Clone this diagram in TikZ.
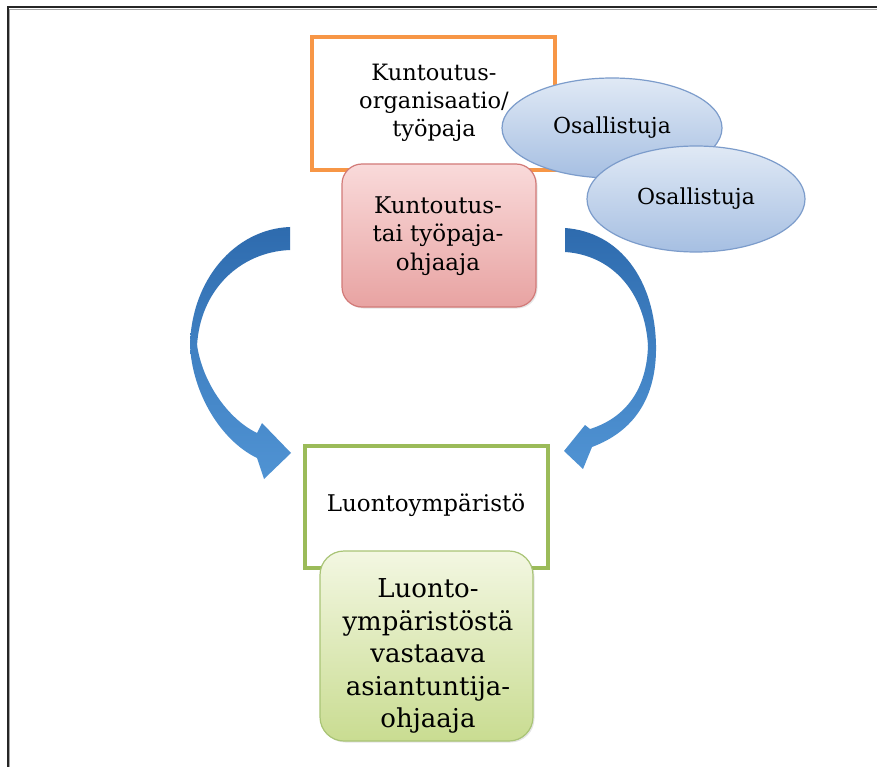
\documentclass[tikz,border=0pt]{standalone}
\usepackage{fontspec}
\setmainfont{DejaVu Serif}
\usetikzlibrary{shapes.geometric,shadows}
\definecolor{orangeb}{HTML}{F79646}
\definecolor{greenb}{HTML}{9BBB59}
\definecolor{redb}{HTML}{D27A78}
\definecolor{redtop}{HTML}{F9DADA}
\definecolor{redbot}{HTML}{E8A3A2}
\definecolor{grtop}{HTML}{F3F7E2}
\definecolor{grbot}{HTML}{C9DC91}
\definecolor{grline}{HTML}{A9C476}
\definecolor{eltop}{HTML}{E0E9F5}
\definecolor{elbot}{HTML}{A6BFE2}
\definecolor{elline}{HTML}{7C9CCB}
\definecolor{arrdark}{HTML}{2E6BAE}
\definecolor{arrmid}{HTML}{3F80C2}
\definecolor{arrlight}{HTML}{5093D3}
\definecolor{frame}{HTML}{262626}
\tikzset{
  framebox/.style={line width=4pt},
  softbox/.style={rounded corners=20pt, line width=1.2pt},
  oval/.style={ellipse, draw=elline, line width=1.2pt, top color=eltop, bottom color=elbot, inner sep=0pt},
  lbl/.style={align=center, inner sep=0pt, text=black},
}
\begin{document}
\begin{tikzpicture}[x=1pt,y=-1pt]
\useasboundingbox (0,0) rectangle (877,767);
\fill[white] (0,0) rectangle (877,767);
% outer frame
\draw[black!35, line width=1pt] (9.5,767) -- (9.5,9.5) -- (877,9.5);
\draw[frame, line width=2pt] (7.5,767) -- (7.5,7.5) -- (877,7.5);

% orange rectangle
\draw[orangeb, framebox] (312,37) rectangle (555,170);
\node[lbl, font=\fontsize{22.5}{28}\selectfont] (org) at (434,103) {Kuntoutus-\\organisaatio/\\työpaja};

% red rounded box
\path[softbox, draw=redb, top color=redtop, bottom color=redbot, drop shadow={opacity=0.2, shadow xshift=1.5pt, shadow yshift=-1.5pt}] (342,164) rectangle (536,307);
\node[lbl, font=\fontsize{23}{28.5}\selectfont] (ohj) at (438,236) {Kuntoutus-\\tai työpaja-\\ohjaaja};

% ellipses
\node[oval, minimum width=220pt, minimum height=100pt] (os1) at (612,128) {};
\node[lbl, font=\fontsize{22}{26}\selectfont] at (os1.center) {Osallistuja};
\node[oval, minimum width=218pt, minimum height=106pt] (os2) at (696,199) {};
\node[lbl, font=\fontsize{22}{26}\selectfont] at (os2.center) {Osallistuja};

% green rectangle
\draw[greenb, framebox] (305,446) rectangle (548,568);
\node[lbl, font=\fontsize{23}{28}\selectfont] (luo) at (426,505) {Luontoympäristö};

% green rounded box
\path[softbox, rounded corners=24pt, draw=grline, top color=grtop, bottom color=grbot, drop shadow={opacity=0.2, shadow xshift=1.5pt, shadow yshift=-1.5pt}] (320,551) rectangle (533,741);
\node[lbl, font=\fontsize{26}{32.5}\selectfont] (asi) at (428,656) {Luonto-\\ympäristöstä\\vastaava\\asiantuntija-\\ohjaaja};

% left curved arrow
\path[top color=arrdark, bottom color=arrmid]
  (290,227) .. controls (235,229) and (191,280) .. (190,346)
  -- (197,346) .. controls (200,290) and (240,252) .. (290,250) -- cycle;
\path[top color=arrmid, bottom color=arrlight]
  (190,345) .. controls (192,392) and (220,440) .. (257,458)
  -- (264,479) -- (291,453) -- (262,423) -- (257,433)
  .. controls (230,420) and (203,385) .. (197,345) -- cycle;

% right curved arrow
\path[top color=arrdark, bottom color=arrmid]
  (565,228) .. controls (620,232) and (655,280) .. (656,346)
  -- (648,346) .. controls (645,292) and (612,255) .. (565,252) -- cycle;
\path[top color=arrmid, bottom color=arrlight]
  (656,345) .. controls (657,400) and (632,432) .. (592,447)
  -- (583,469) -- (564,451) -- (585,425) -- (590,429)
  .. controls (625,418) and (647,390) .. (648,345) -- cycle;
\end{tikzpicture}
\end{document}
